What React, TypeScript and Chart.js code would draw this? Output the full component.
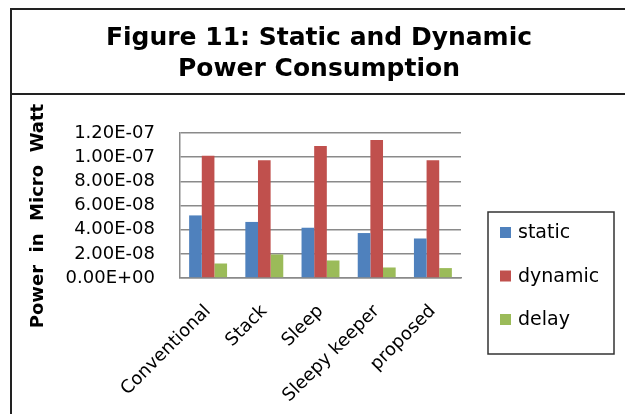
import React, { useEffect, useRef } from 'react';
import { Chart, registerables } from 'chart.js';

Chart.register(...registerables);

const categories = ['Conventional', 'Stack', 'Sleep', 'Sleepy keeper', 'proposed'];
const staticPower = [5.18e-8, 4.64e-8, 4.16e-8, 3.72e-8, 3.27e-8];
const dynamicPower = [1.012e-7, 9.75e-8, 1.093e-7, 1.143e-7, 9.75e-8];
const delayValues = [1.2e-8, 1.95e-8, 1.45e-8, 0.87e-8, 0.82e-8];
const seriesNames = ['static', 'dynamic', 'delay'];
const seriesColors = ['#4F81BD', '#C0504D', '#9BBB59'];
const titleLines = ['Figure 11: Static and Dynamic', 'Power Consumption'];
const yAxisTitle = 'Power  in  Micro  Watt';
const yMin = 0;
const yMax = 1.2e-7;
const yStep = 2e-8;

function fmtExp(v: number): string {
  const s = v.toExponential(2);
  const [m, e] = s.split('e');
  const sign = e[0] === '-' ? '-' : '+';
  const d = e.replace(/^[+-]/, '').padStart(2, '0');
  return `${m}E${sign}${d}`;
}

const decor = {
  id: 'decor',
  afterDraw(chart: any) {
    const ctx = chart.ctx as CanvasRenderingContext2D;
    ctx.save();
    // frame
    ctx.strokeStyle = '#222';
    ctx.lineWidth = 2;
    ctx.beginPath();
    ctx.moveTo(11, 414);
    ctx.lineTo(11, 9);
    ctx.lineTo(625, 9);
    ctx.moveTo(11, 94);
    ctx.lineTo(625, 94);
    ctx.stroke();

    // title
    ctx.fillStyle = '#000';
    ctx.font = 'bold 25px "DejaVu Sans"';
    ctx.textAlign = 'center';
    ctx.textBaseline = 'alphabetic';
    ctx.fillText(titleLines[0], 319, 45);
    ctx.fillText(titleLines[1], 319, 76);

    // y axis title
    ctx.save();
    ctx.translate(43, 216);
    ctx.rotate(-Math.PI / 2);
    ctx.font = 'bold 18px "DejaVu Sans"';
    ctx.textAlign = 'center';
    ctx.fillText(yAxisTitle, 0, 0);
    ctx.restore();

    // legend
    ctx.lineWidth = 1.5;
    ctx.strokeStyle = '#333';
    ctx.strokeRect(488, 212, 126, 142);
    const baselines = [238, 281.5, 325];
    ctx.textAlign = 'left';
    ctx.font = '19px "DejaVu Sans"';
    chart.data.datasets.forEach((ds: any, i: number) => {
      const y = baselines[i];
      ctx.fillStyle = ds.backgroundColor;
      ctx.fillRect(500, y - 11, 11, 11);
      ctx.fillStyle = '#000';
      ctx.fillText(ds.label, 518, y);
    });
    ctx.restore();
  },
};

export default function App() {
  const ref = useRef<HTMLCanvasElement | null>(null);
  useEffect(() => {
    if (!ref.current) return;
    const tickFont = { family: 'DejaVu Sans', size: 18, lineHeight: 1 };
    const chart = new Chart(ref.current, {
      type: 'bar',
      data: {
        labels: categories,
        datasets: [staticPower, dynamicPower, delayValues].map((d, i) => ({
          label: seriesNames[i],
          data: d,
          backgroundColor: seriesColors[i],
          borderWidth: 0,
          categoryPercentage: 0.675,
          barPercentage: 1,
        })),
      },
      options: {
        animation: false,
        responsive: false,
        layout: { padding: { left: 0, top: 133, right: 164, bottom: 0 } },
        plugins: {
          legend: { display: false },
          title: { display: false },
          tooltip: { enabled: false },
        },
        scales: {
          x: {
            grid: { display: false, drawTicks: false },
            border: { display: true, color: '#8a8a8a', width: 1.5 },
            ticks: {
              minRotation: 45,
              maxRotation: 45,
              autoSkip: false,
              padding: 24,
              color: '#000',
              font: tickFont,
            },
            afterFit: (s: any) => {
              s.height = 414 - 278;
            },
          },
          y: {
            min: yMin,
            max: yMax,
            grid: { color: '#8a8a8a', lineWidth: 1.5, drawTicks: false },
            border: { display: true, color: '#8a8a8a', width: 1.5 },
            ticks: {
              stepSize: yStep,
              autoSkip: false,
              padding: 25,
              color: '#000',
              font: tickFont,
              callback: (v: any) => fmtExp(Number(v)),
            },
            afterFit: (s: any) => {
              s.width = 180;
            },
          },
        },
      },
      plugins: [decor],
    });
    return () => chart.destroy();
  }, []);
  return (
    <div style={{ position: 'fixed', left: 0, top: 0, width: 625, height: 414, background: '#fff' }}>
      <canvas ref={ref} width={625} height={414} style={{ display: 'block' }} />
    </div>
  );
}
